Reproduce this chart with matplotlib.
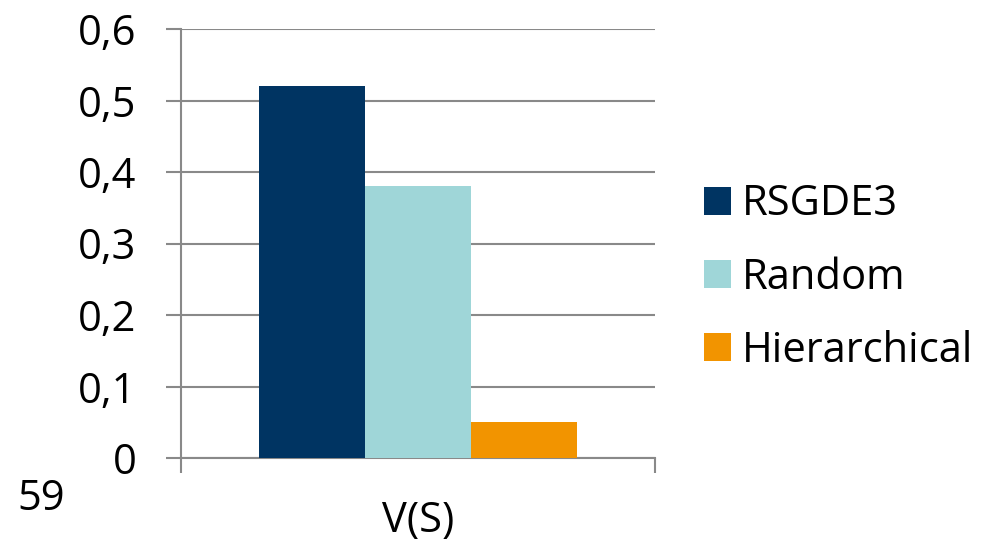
import numpy as np
import matplotlib.pyplot as plt
from matplotlib.ticker import FuncFormatter

category = "V(S)"
series = ["RSGDE3", "Random", "Hierarchical"]
values = [0.52, 0.38, 0.05]
colors = ["#003462", "#9fd6d8", "#f29400"]
y_ticks = [0, 0.1, 0.2, 0.3, 0.4, 0.5, 0.6]

plt.rcParams['font.family'] = ['Open Sans', 'DejaVu Sans']
grey = "#898989"
fs = 30

fig = plt.figure(figsize=(9.92, 5.42), dpi=100)
ax = fig.add_axes([181 / 992, 1 - 458 / 542, 474 / 992, 429 / 542])

width = 0.2236
offsets = (np.arange(len(series)) - 1) * width
for off, val, col, name in zip(offsets, values, colors, series):
    ax.bar(off, val, width=width, color=col, label=name, zorder=3)

ax.set_xlim(-0.5, 0.5)
ax.set_ylim(0, 0.6)
ax.set_yticks(y_ticks)
ax.yaxis.set_major_formatter(FuncFormatter(lambda v, p: f"{v:.1f}".replace(".", ",").replace("0,0", "0")))
ax.yaxis.grid(True, color=grey, linewidth=1.5, zorder=0)

# category boundaries as ticks, label in the middle
ax.set_xticks([-0.5, 0.5])
ax.set_xticklabels(["", ""])
ax.set_xticks([0], minor=True)
ax.set_xticklabels([category], minor=True)
ax.tick_params(axis='x', which='major', length=11, width=1.5, color=grey)
ax.tick_params(axis='x', which='minor', length=0, pad=30, labelsize=fs)
ax.tick_params(axis='y', length=11, width=1.5, color=grey, labelsize=fs, pad=21)

for s in ["top", "right"]:
    ax.spines[s].set_visible(False)
for s in ["left", "bottom"]:
    ax.spines[s].set_color(grey)
    ax.spines[s].set_linewidth(1.5)

fig.legend(loc="center left", bbox_to_anchor=(704 / 992, 0.488), frameon=False,
           fontsize=fs, handlelength=0.65, handleheight=0.65, handletextpad=0.25,
           labelspacing=0.75, borderpad=0, borderaxespad=0)

fig.text(41 / 992, 1 - 499 / 542, "59", ha="center", va="center", fontsize=fs)

fig.savefig("out.png", dpi=100)
